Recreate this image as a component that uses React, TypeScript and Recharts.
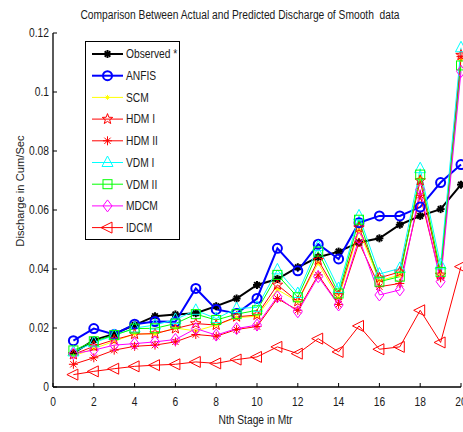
import React from 'react';
import { LineChart, Line, XAxis, YAxis } from 'recharts';

const stages = [1, 2, 3, 4, 5, 6, 7, 8, 9, 10, 11, 12, 13, 14, 15, 16, 17, 18, 19, 20];
const observed = [0.0115, 0.0159, 0.018, 0.021, 0.024, 0.0246, 0.025, 0.0274, 0.030, 0.0346, 0.0366, 0.0406, 0.044, 0.0459, 0.049, 0.0504, 0.055, 0.058, 0.0603, 0.0686];
const anfis = [0.0157, 0.0198, 0.0178, 0.0213, 0.0222, 0.0221, 0.0334, 0.0263, 0.0249, 0.030, 0.047, 0.0394, 0.0484, 0.0434, 0.0557, 0.058, 0.058, 0.061, 0.0693, 0.0754];
const scm = [0.0105, 0.013, 0.0155, 0.018, 0.018, 0.020, 0.019, 0.021, 0.0235, 0.024, 0.033, 0.029, 0.042, 0.030, 0.053, 0.036, 0.038, 0.071, 0.038, 0.111];
const hdm1 = [0.011, 0.0138, 0.016, 0.0179, 0.0181, 0.0198, 0.0215, 0.021, 0.0238, 0.0244, 0.0346, 0.029, 0.043, 0.031, 0.054, 0.037, 0.039, 0.070, 0.038, 0.1125];
const hdm2 = [0.0077, 0.0099, 0.0125, 0.0138, 0.0142, 0.0153, 0.0178, 0.0172, 0.0195, 0.0205, 0.030, 0.026, 0.038, 0.028, 0.049, 0.034, 0.0351, 0.065, 0.037, 0.112];
const vdm1 = [0.0119, 0.015, 0.0175, 0.020, 0.021, 0.0229, 0.026, 0.0232, 0.0266, 0.027, 0.0397, 0.0317, 0.0476, 0.0334, 0.058, 0.0383, 0.0402, 0.074, 0.0414, 0.115];
const vdm2 = [0.0124, 0.0155, 0.0176, 0.0198, 0.0199, 0.0215, 0.0247, 0.0227, 0.0247, 0.026, 0.038, 0.0304, 0.0459, 0.0317, 0.0567, 0.0357, 0.0374, 0.072, 0.039, 0.109];
const mdcm = [0.0113, 0.0125, 0.0142, 0.0147, 0.0153, 0.0161, 0.0198, 0.0176, 0.0198, 0.021, 0.0306, 0.0255, 0.0374, 0.0278, 0.0504, 0.0312, 0.0329, 0.0669, 0.0357, 0.107];
const idcm = [0.0042, 0.0053, 0.0062, 0.007, 0.0074, 0.0077, 0.0085, 0.008, 0.0093, 0.0102, 0.0136, 0.0113, 0.0164, 0.0119, 0.0207, 0.0128, 0.0136, 0.026, 0.0151, 0.0408];

const xTicks = [0, 2, 4, 6, 8, 10, 12, 14, 16, 18, 20];
const yTicks = [0, 0.02, 0.04, 0.06, 0.08, 0.1, 0.12];

const TITLE = 'Comparison Between Actual and Predicted Discharge of Smooth  data';
const X_LABEL = 'Nth Stage in Mtr';
const Y_LABEL = 'Discharge in Cum/Sec';

type SeriesDef = { key: string; name: string; values: number[]; color: string; width: number; shape: string };

const series: SeriesDef[] = [
  { key: 'observed', name: 'Observed *', values: observed, color: '#000000', width: 2, shape: 'bigstar' },
  { key: 'anfis', name: 'ANFIS', values: anfis, color: '#0000ff', width: 2, shape: 'circle' },
  { key: 'scm', name: 'SCM', values: scm, color: '#ffff00', width: 1, shape: 'small' },
  { key: 'hdm1', name: 'HDM I', values: hdm1, color: '#ff0000', width: 1, shape: 'pentagram' },
  { key: 'hdm2', name: 'HDM II', values: hdm2, color: '#ff0000', width: 1, shape: 'asterisk' },
  { key: 'vdm1', name: 'VDM I', values: vdm1, color: '#00ffff', width: 1, shape: 'triUp' },
  { key: 'vdm2', name: 'VDM II', values: vdm2, color: '#00ff00', width: 1, shape: 'square' },
  { key: 'mdcm', name: 'MDCM', values: mdcm, color: '#ff00ff', width: 1, shape: 'diamond' },
  { key: 'idcm', name: 'IDCM', values: idcm, color: '#ff0000', width: 1, shape: 'triLeft' },
];

const data = stages.map((s, i) => {
  const row: any = { stage: s };
  series.forEach((sd) => {
    row[sd.key] = sd.values[i];
  });
  return row;
});

const FONT = "'Liberation Sans', Arial, sans-serif";
const SX = 0.82;
const TXT = '#1a1a1a';

function Marker({ shape, cx, cy, color }: { shape: string; cx: number; cy: number; color: string }) {
  if (cx == null || cy == null || isNaN(cx) || isNaN(cy)) return <g />;
  const ast = (r: number, sw: number) => (
    <g stroke={color} strokeWidth={sw} fill="none">
      <line x1={cx - r} y1={cy} x2={cx + r} y2={cy} />
      <line x1={cx} y1={cy - r} x2={cx} y2={cy + r} />
      <line x1={cx - r * 0.7} y1={cy - r * 0.7} x2={cx + r * 0.7} y2={cy + r * 0.7} />
      <line x1={cx - r * 0.7} y1={cy + r * 0.7} x2={cx + r * 0.7} y2={cy - r * 0.7} />
    </g>
  );
  switch (shape) {
    case 'bigstar':
      return ast(4, 2);
    case 'circle':
      return <circle cx={cx} cy={cy} r={4.5} fill="none" stroke={color} strokeWidth={2} />;
    case 'small':
      return ast(2.5, 1);
    case 'asterisk':
      return ast(4.5, 1);
    case 'pentagram': {
      const pts: string[] = [];
      for (let k = 0; k < 10; k++) {
        const r = k % 2 === 0 ? 5.5 : 2.3;
        const a = -Math.PI / 2 + (k * Math.PI) / 5;
        pts.push(`${cx + r * Math.cos(a)},${cy + r * Math.sin(a)}`);
      }
      return <polygon points={pts.join(' ')} fill="none" stroke={color} strokeWidth={1} />;
    }
    case 'triUp':
      return <polygon points={`${cx},${cy - 6.5} ${cx - 5.5},${cy + 4} ${cx + 5.5},${cy + 4}`} fill="none" stroke={color} strokeWidth={1} />;
    case 'square':
      return <rect x={cx - 4.5} y={cy - 4.5} width={9} height={9} fill="none" stroke={color} strokeWidth={1} />;
    case 'diamond':
      return <polygon points={`${cx},${cy - 6} ${cx + 4.5},${cy} ${cx},${cy + 6} ${cx - 4.5},${cy}`} fill="none" stroke={color} strokeWidth={1} />;
    case 'triLeft':
      return <polygon points={`${cx - 6.5},${cy} ${cx + 4.5},${cy - 5.5} ${cx + 4.5},${cy + 5.5}`} fill="none" stroke={color} strokeWidth={1} />;
    default:
      return <g />;
  }
}

const emptyTick = () => <g />;

const XTick = (p: any) => (
  <text
    transform={`translate(${p.x},${p.y}) scale(${SX},1)`}
    x={0}
    y={0}
    dy="0.71em"
    textAnchor="middle"
    fontFamily={FONT}
    fontSize={12.5}
    fill={TXT}
  >
    {p.payload.value}
  </text>
);

const YTick = (p: any) => (
  <text
    transform={`translate(${p.x},${p.y}) scale(${SX},1)`}
    x={0}
    y={0}
    textAnchor="end"
    dominantBaseline="central"
    fontFamily={FONT}
    fontSize={12.5}
    fill={TXT}
  >
    {p.payload.value}
  </text>
);

function LegendBox() {
  const rowH = 21.7;
  return (
    <div
      style={{
        position: 'absolute',
        left: 85,
        top: 41,
        width: 95,
        height: 199,
        boxSizing: 'border-box',
        border: '1.3px solid #000',
        background: '#fff',
      }}
    >
      <svg width={93} height={197} style={{ display: 'block' }}>
        {series.map((sd, i) => {
          const y = 12 + i * rowH;
          return (
            <g key={sd.key}>
              <line x1={6} y1={y} x2={37} y2={y} stroke={sd.color} strokeWidth={sd.width} />
              <Marker shape={sd.shape} cx={21.5} cy={y} color={sd.color} />
              <text
                transform={`translate(40,${y}) scale(${SX},1)`}
                x={0}
                y={0}
                dominantBaseline="central"
                fontFamily={FONT}
                fontSize={12.5}
                fill={TXT}
              >
                {sd.name}
              </text>
            </g>
          );
        })}
      </svg>
    </div>
  );
}

export default function App() {
  return (
    <div style={{ position: 'relative', width: 463, height: 432, background: '#fff', overflow: 'hidden' }}>
      <style>{'html,body{margin:0;padding:0;}'}</style>
      <div
        style={{
          position: 'absolute',
          left: 0,
          width: 480,
          top: 8,
          textAlign: 'center',
          fontFamily: FONT,
          fontSize: 12.5,
          lineHeight: '14px',
          whiteSpace: 'pre',
          color: TXT,
          transform: `scaleX(${SX})`,
          transformOrigin: '240px 0',
        }}
      >
        {TITLE}
      </div>
      <LineChart width={463} height={432} data={data} margin={{ top: 33, right: 2, bottom: 0, left: 0 }}>
        <XAxis
          dataKey="stage"
          type="number"
          domain={[0, 20]}
          ticks={xTicks}
          height={45}
          tickSize={-4}
          tickMargin={14}
          axisLine={{ stroke: '#000', strokeWidth: 1.3 }}
          tickLine={{ stroke: '#000' }}
          tick={XTick}
          interval={0}
          label={{
            content: () => (
              <text
                transform={`translate(255.5,420) scale(${SX},1)`}
                x={0}
                y={0}
                textAnchor="middle"
                dominantBaseline="central"
                fontFamily={FONT}
                fontSize={12.5}
                fill={TXT}
              >
                {X_LABEL}
              </text>
            ),
          }}
        />
        <XAxis
          xAxisId="top"
          dataKey="stage"
          orientation="top"
          type="number"
          domain={[0, 20]}
          ticks={xTicks}
          height={0}
          tickSize={-4}
          axisLine={{ stroke: '#000', strokeWidth: 1.3 }}
          tickLine={{ stroke: '#000' }}
          tick={emptyTick}
          interval={0}
        />
        <YAxis
          domain={[0, 0.12]}
          ticks={yTicks}
          width={53}
          tickSize={-4}
          tickMargin={8}
          axisLine={{ stroke: '#000', strokeWidth: 1.3 }}
          tickLine={{ stroke: '#000' }}
          tick={YTick}
          interval={0}
          label={{
            content: () => (
              <text
                transform="translate(20,191) rotate(-90)"
                textAnchor="middle"
                dominantBaseline="central"
                fontFamily={FONT}
                fontSize={11.2}
                fill={TXT}
              >
                {Y_LABEL}
              </text>
            ),
          }}
        />
        <YAxis
          yAxisId="right"
          orientation="right"
          domain={[0, 0.12]}
          ticks={yTicks}
          width={0}
          tickSize={-4}
          axisLine={{ stroke: '#000', strokeWidth: 1.3 }}
          tickLine={{ stroke: '#000' }}
          tick={emptyTick}
          interval={0}
        />
        {series.map((sd) => (
          <Line
            key={sd.key}
            dataKey={sd.key}
            name={sd.name}
            stroke={sd.color}
            strokeWidth={sd.width}
            isAnimationActive={false}
            activeDot={false}
            dot={(p: any) => <Marker key={`${sd.key}-${p.index}`} shape={sd.shape} cx={p.cx} cy={p.cy} color={sd.color} />}
          />
        ))}
      </LineChart>
      <LegendBox />
    </div>
  );
}
